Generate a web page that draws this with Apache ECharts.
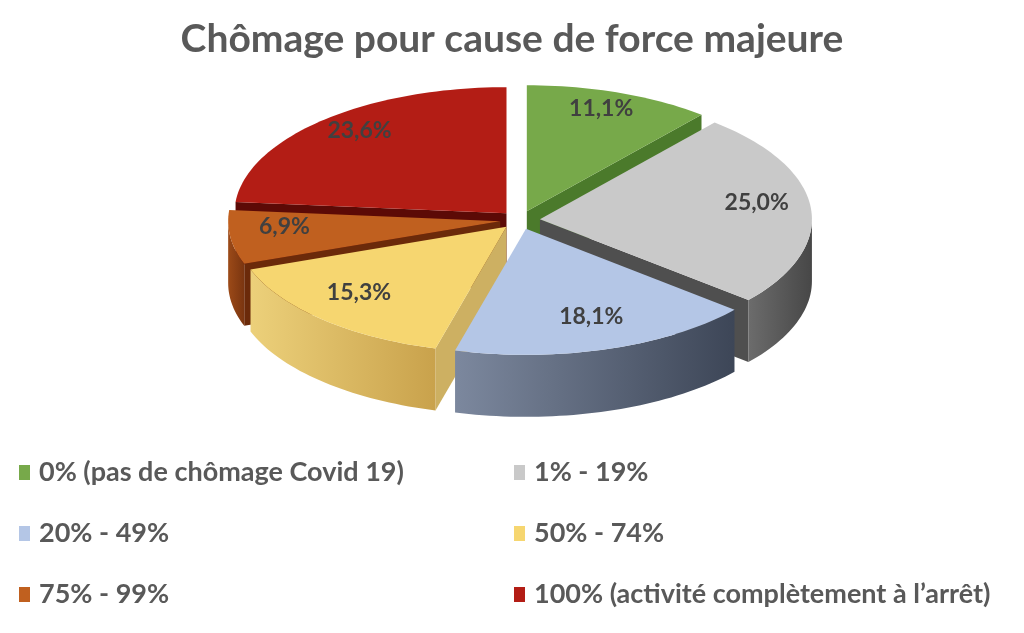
<!DOCTYPE html>
<html>
<head>
<meta charset="utf-8">
<script src="https://cdn.jsdelivr.net/npm/echarts/dist/echarts.min.js"></script>
<style>
html, body { margin: 0; padding: 0; background: #fff; }
#main { width: 1024px; height: 633px; }
</style>
</head>
<body>
<div id="main"></div>
<script>
// données
var categories = [
    '0% (pas de chômage Covid 19)',
    '1% - 19%',
    '20% - 49%',
    '50% - 74%',
    '75% - 99%',
    '100% (activité complètement à l\u2019arrêt)'
];
var values = [11.1, 25.0, 18.1, 15.3, 6.9, 23.6];

// couleurs : dessus, paroi claire, paroi sombre, face radiale
var topColors  = ['#77a94a', '#c9c9c9', '#b4c6e6', '#f6d670', '#c0601f', '#b31d15'];
var wallLight  = ['#5a8a34', '#6c6c6c', '#7c889e', '#ecd07a', '#9c4a18', '#7a100a'];
var wallDark   = ['#466f26', '#474747', '#3d4657', '#c9a24c', '#7a3510', '#5c0a06'];
var faceColors = ['#4b7a2b', '#4f4f4f', '#4a5468', '#cdb062', '#6b2a0a', '#5c0a06'];

// géométrie du camembert 3D
var CX = 520, CY = 220, RX = 272, RY = 126, DEPTH = 62, EXPLODE = 20;
var LABEL_RX = 0.8, LABEL_RY = 0.8, LABEL_DY = -8;

var total = values.reduce(function (a, b) { return a + b; }, 0);

function rad(d) { return d * Math.PI / 180; }

function pt(a, ox, oy, dz) {
    return [CX + ox + RX * Math.sin(rad(a)), CY + oy - RY * Math.cos(rad(a)) + dz];
}

function arc(a0, a1, ox, oy, dz) {
    var n = Math.max(2, Math.ceil((a1 - a0) / 1.5));
    var pts = [];
    for (var k = 0; k <= n; k++) {
        pts.push(pt(a0 + (a1 - a0) * k / n, ox, oy, dz));
    }
    return pts;
}

// ordre de dessin : du fond vers l'avant
function midAngle(i) {
    var before = 0;
    for (var j = 0; j < i; j++) before += values[j];
    return (before + values[i] / 2) / total * 360;
}
var drawOrder = values.map(function (v, i) { return i; }).sort(function (a, b) {
    return Math.cos(rad(midAngle(b))) - Math.cos(rad(midAngle(a)));
});

function fmt(v) { return v.toFixed(1).replace('.', ',') + '%'; }

function renderSlice(params, api) {
    var i = params.seriesIndex;
    var v = api.value(0);
    var before = 0;
    for (var j = 0; j < i; j++) before += values[j];
    var start = before / total * 360;
    var end = start + v / total * 360;
    var mid = (start + end) / 2;
    var ox = EXPLODE * Math.sin(rad(mid));
    var oy = -EXPLODE * RY / RX * Math.cos(rad(mid));
    var base = drawOrder.indexOf(i) * 10;
    var apex = [CX + ox, CY + oy];
    var apexLow = [CX + ox, CY + oy + DEPTH];
    var children = [];

    function radialFace(a) {
        var r0 = pt(a, ox, oy, 0), r1 = pt(a, ox, oy, DEPTH);
        children.push({
            type: 'polygon', z2: base + 1,
            shape: { points: [apex, r0, r1, apexLow] },
            style: { fill: faceColors[i] }
        });
    }
    // faces radiales visibles
    if (Math.sin(rad(start)) < -0.01) radialFace(start);
    if (Math.sin(rad(end)) > 0.01) radialFace(end);

    // paroi extérieure (partie avant)
    var a0 = Math.max(start, 90), a1 = Math.min(end, 270);
    if (a1 > a0) {
        var wall = arc(a0, a1, ox, oy, 0).concat(arc(a0, a1, ox, oy, DEPTH).reverse());
        children.push({
            type: 'polygon', z2: base + 2,
            shape: { points: wall },
            style: {
                fill: new echarts.graphic.LinearGradient(0, 0, 1, 0, [
                    { offset: 0, color: wallLight[i] },
                    { offset: 1, color: wallDark[i] }
                ])
            }
        });
    }

    // dessus
    children.push({
        type: 'polygon', z2: base + 3,
        shape: { points: [apex].concat(arc(start, end, ox, oy, 0)) },
        style: { fill: topColors[i] }
    });

    // étiquette
    children.push({
        type: 'text', z2: 100,
        style: {
            text: fmt(v),
            x: CX + ox + RX * LABEL_RX * Math.sin(rad(mid)),
            y: CY + oy - RY * LABEL_RY * Math.cos(rad(mid)) + LABEL_DY,
            fill: '#404040',
            font: 'bold 23px Lato',
            align: 'center', verticalAlign: 'middle',
            textAlign: 'center', textVerticalAlign: 'middle'
        }
    });
    return { type: 'group', children: children };
}

var series = categories.map(function (name, i) {
    return {
        name: name,
        type: 'custom',
        coordinateSystem: 'none',
        itemStyle: { color: topColors[i] },
        renderItem: renderSlice,
        data: [[values[i]]],
        animation: false
    };
});

var legendText = { fontFamily: 'Lato', fontWeight: 'bold', fontSize: 27, color: '#595959', padding: [0, 0, 0, 4] };

var option = {
    backgroundColor: '#ffffff',
    title: {
        text: 'Chômage pour cause de force majeure',
        left: 'center',
        top: 15,
        textStyle: { fontFamily: 'Lato', fontWeight: 'bold', fontSize: 39, color: '#595959' }
    },
    legend: [
        {
            orient: 'vertical', left: 14, top: 454, itemGap: 34,
            icon: 'rect', itemWidth: 11, itemHeight: 15,
            selectedMode: false,
            data: [categories[0], categories[2], categories[4]],
            textStyle: legendText
        },
        {
            orient: 'vertical', left: 509, top: 454, itemGap: 34,
            icon: 'rect', itemWidth: 11, itemHeight: 15,
            selectedMode: false,
            data: [categories[1], categories[3], categories[5]],
            textStyle: legendText
        }
    ],
    series: series
};

var myChart = echarts.init(document.getElementById('main'));
myChart.setOption(option);
</script>
</body>
</html>
